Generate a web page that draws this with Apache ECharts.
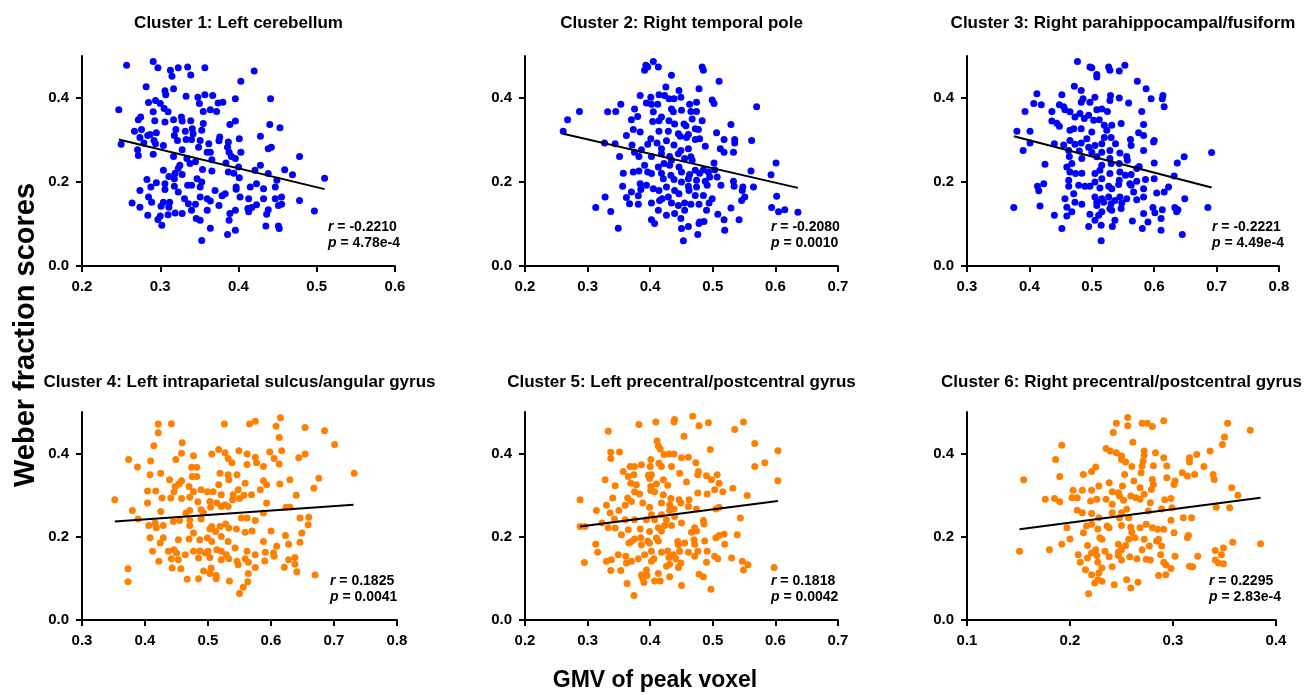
<!DOCTYPE html>
<html>
<head>
<meta charset="utf-8">
<script src="https://cdn.jsdelivr.net/npm/echarts@6/dist/echarts.min.js"></script>
<style>
  html, body { margin: 0; padding: 0; background: #fff; }
  #chart { width: 1311px; height: 695px; }
</style>
</head>
<body>
<div id="chart"></div>
<script>
// panel titles and stats
const titles = [
  'Cluster 1: Left cerebellum',
  'Cluster 2: Right temporal pole',
  'Cluster 3: Right parahippocampal/fusiform',
  'Cluster 4: Left intraparietal sulcus/angular gyrus',
  'Cluster 5: Left precentral/postcentral gyrus',
  'Cluster 6: Right precentral/postcentral gyrus'
]
const rValues = ['-0.2210', '-0.2080', '-0.2221', '0.1825', '0.1818', '0.2295']
const pValues = ['4.78e-4', '0.0010', '4.49e-4', '0.0041', '0.0042', '2.83e-4']

// tick labels
const yTicks = [0, 0.2, 0.4]
const xTicks = [
  [0.2, 0.3, 0.4, 0.5, 0.6],
  [0.2, 0.3, 0.4, 0.5, 0.6, 0.7],
  [0.3, 0.4, 0.5, 0.6, 0.7, 0.8],
  [0.3, 0.4, 0.5, 0.6, 0.7, 0.8],
  [0.2, 0.3, 0.4, 0.5, 0.6, 0.7],
  [0.1, 0.2, 0.3, 0.4]
]

// fitted regression lines (end points)
const fit1 = [[0.247, 0.301], [0.510, 0.183]]
const fit2 = [[0.261, 0.315], [0.636, 0.186]]
const fit3 = [[0.375, 0.309], [0.692, 0.187]]
const fit4 = [[0.352, 0.237], [0.731, 0.277]]
const fit5 = [[0.288, 0.225], [0.604, 0.286]]
const fit6 = [[0.151, 0.218], [0.385, 0.294]]

// GMV of peak voxel vs Weber fraction score
const cluster1 = [[0.257,0.478],[0.291,0.487],[0.297,0.472],[0.313,0.466],[0.323,0.472],[0.335,0.474],[0.357,0.472],[0.315,0.452],[0.339,0.455],[0.420,0.464],[0.403,0.44],[0.282,0.427],[0.317,0.422],[0.306,0.417],[0.307,0.408],[0.333,0.404],[0.348,0.402],[0.357,0.408],[0.367,0.406],[0.396,0.398],[0.441,0.398],[0.247,0.372],[0.285,0.389],[0.294,0.394],[0.300,0.387],[0.291,0.367],[0.305,0.375],[0.310,0.367],[0.350,0.387],[0.355,0.368],[0.364,0.372],[0.372,0.368],[0.380,0.390],[0.374,0.388],[0.275,0.355],[0.272,0.348],[0.293,0.346],[0.306,0.343],[0.317,0.348],[0.327,0.355],[0.328,0.345],[0.339,0.346],[0.355,0.339],[0.396,0.345],[0.389,0.337],[0.440,0.337],[0.453,0.329],[0.267,0.321],[0.276,0.325],[0.287,0.313],[0.292,0.299],[0.295,0.317],[0.320,0.325],[0.332,0.321],[0.341,0.327],[0.342,0.315],[0.353,0.323],[0.318,0.311],[0.322,0.299],[0.333,0.301],[0.340,0.301],[0.351,0.299],[0.362,0.291],[0.376,0.307],[0.375,0.298],[0.387,0.295],[0.401,0.303],[0.428,0.309],[0.274,0.306],[0.279,0.293],[0.284,0.311],[0.250,0.290],[0.271,0.277],[0.272,0.263],[0.291,0.266],[0.304,0.287],[0.294,0.291],[0.328,0.277],[0.317,0.261],[0.349,0.283],[0.360,0.271],[0.364,0.271],[0.366,0.253],[0.386,0.283],[0.388,0.271],[0.391,0.261],[0.403,0.271],[0.396,0.256],[0.438,0.279],[0.442,0.283],[0.478,0.261],[0.334,0.256],[0.338,0.244],[0.345,0.248],[0.325,0.240],[0.323,0.232],[0.354,0.230],[0.319,0.221],[0.304,0.228],[0.311,0.213],[0.318,0.208],[0.328,0.218],[0.366,0.226],[0.384,0.245],[0.387,0.224],[0.394,0.221],[0.400,0.236],[0.401,0.210],[0.428,0.240],[0.421,0.228],[0.438,0.220],[0.459,0.229],[0.469,0.217],[0.510,0.209],[0.449,0.204],[0.447,0.188],[0.283,0.206],[0.295,0.198],[0.288,0.188],[0.274,0.180],[0.306,0.196],[0.306,0.182],[0.318,0.190],[0.323,0.176],[0.335,0.192],[0.340,0.192],[0.351,0.188],[0.353,0.200],[0.347,0.208],[0.370,0.180],[0.379,0.167],[0.397,0.188],[0.397,0.183],[0.415,0.188],[0.423,0.196],[0.432,0.184],[0.285,0.164],[0.289,0.152],[0.304,0.152],[0.312,0.152],[0.331,0.160],[0.336,0.148],[0.345,0.147],[0.351,0.164],[0.360,0.160],[0.364,0.155],[0.375,0.144],[0.383,0.172],[0.402,0.164],[0.413,0.160],[0.417,0.139],[0.423,0.146],[0.432,0.160],[0.447,0.160],[0.455,0.164],[0.451,0.144],[0.455,0.147],[0.478,0.156],[0.264,0.150],[0.274,0.140],[0.301,0.142],[0.311,0.140],[0.319,0.126],[0.328,0.125],[0.340,0.133],[0.360,0.133],[0.389,0.125],[0.396,0.133],[0.412,0.137],[0.413,0.129],[0.438,0.134],[0.436,0.123],[0.497,0.131],[0.284,0.121],[0.300,0.119],[0.297,0.111],[0.310,0.122],[0.346,0.113],[0.351,0.109],[0.388,0.109],[0.302,0.097],[0.364,0.090],[0.396,0.085],[0.386,0.075],[0.435,0.095],[0.451,0.095],[0.452,0.089],[0.353,0.061]]

const cluster2 = [[0.405,0.487],[0.393,0.478],[0.396,0.474],[0.391,0.466],[0.413,0.474],[0.434,0.454],[0.483,0.474],[0.485,0.466],[0.510,0.440],[0.425,0.426],[0.446,0.418],[0.478,0.422],[0.384,0.406],[0.401,0.402],[0.414,0.408],[0.423,0.406],[0.430,0.398],[0.438,0.398],[0.449,0.402],[0.499,0.395],[0.502,0.387],[0.353,0.385],[0.287,0.368],[0.332,0.367],[0.345,0.368],[0.375,0.374],[0.394,0.388],[0.402,0.385],[0.412,0.385],[0.434,0.374],[0.437,0.367],[0.450,0.371],[0.463,0.385],[0.474,0.390],[0.465,0.368],[0.474,0.368],[0.570,0.379],[0.268,0.348],[0.370,0.348],[0.380,0.356],[0.405,0.367],[0.404,0.344],[0.418,0.355],[0.414,0.346],[0.430,0.346],[0.439,0.338],[0.454,0.338],[0.457,0.334],[0.467,0.350],[0.483,0.346],[0.529,0.337],[0.261,0.321],[0.373,0.325],[0.384,0.319],[0.414,0.321],[0.429,0.321],[0.445,0.315],[0.461,0.313],[0.472,0.327],[0.477,0.325],[0.506,0.317],[0.362,0.311],[0.401,0.303],[0.411,0.293],[0.426,0.298],[0.448,0.309],[0.458,0.306],[0.472,0.301],[0.479,0.303],[0.518,0.301],[0.535,0.301],[0.535,0.293],[0.562,0.299],[0.327,0.293],[0.344,0.291],[0.371,0.288],[0.386,0.277],[0.396,0.290],[0.418,0.279],[0.438,0.288],[0.449,0.275],[0.461,0.279],[0.488,0.285],[0.512,0.279],[0.518,0.271],[0.533,0.271],[0.351,0.261],[0.375,0.271],[0.382,0.261],[0.402,0.261],[0.418,0.267],[0.431,0.261],[0.434,0.252],[0.445,0.267],[0.455,0.256],[0.465,0.260],[0.467,0.252],[0.502,0.245],[0.601,0.245],[0.391,0.240],[0.413,0.236],[0.422,0.244],[0.431,0.240],[0.446,0.236],[0.472,0.228],[0.485,0.229],[0.357,0.221],[0.373,0.224],[0.382,0.226],[0.396,0.224],[0.402,0.220],[0.418,0.221],[0.433,0.216],[0.450,0.224],[0.463,0.218],[0.479,0.221],[0.493,0.224],[0.503,0.229],[0.507,0.212],[0.561,0.226],[0.593,0.217],[0.421,0.208],[0.438,0.206],[0.450,0.200],[0.461,0.208],[0.474,0.204],[0.488,0.202],[0.495,0.212],[0.533,0.202],[0.356,0.190],[0.384,0.196],[0.394,0.192],[0.385,0.182],[0.405,0.184],[0.426,0.188],[0.461,0.190],[0.474,0.188],[0.491,0.192],[0.513,0.192],[0.534,0.190],[0.548,0.188],[0.565,0.188],[0.547,0.180],[0.328,0.164],[0.362,0.163],[0.370,0.176],[0.381,0.167],[0.414,0.180],[0.419,0.160],[0.429,0.164],[0.439,0.180],[0.446,0.172],[0.462,0.180],[0.472,0.168],[0.485,0.168],[0.499,0.160],[0.551,0.164],[0.546,0.156],[0.602,0.166],[0.367,0.148],[0.381,0.147],[0.402,0.150],[0.415,0.156],[0.434,0.150],[0.445,0.144],[0.455,0.150],[0.465,0.147],[0.478,0.147],[0.494,0.150],[0.313,0.139],[0.490,0.133],[0.529,0.138],[0.594,0.139],[0.605,0.129],[0.615,0.134],[0.636,0.128],[0.337,0.130],[0.413,0.133],[0.426,0.121],[0.439,0.125],[0.455,0.133],[0.508,0.123],[0.402,0.110],[0.407,0.101],[0.449,0.113],[0.518,0.110],[0.542,0.110],[0.479,0.105],[0.486,0.106],[0.349,0.090],[0.450,0.089],[0.461,0.094],[0.478,0.101],[0.519,0.085],[0.476,0.075],[0.453,0.060]]

const cluster3 = [[0.477,0.487],[0.497,0.474],[0.500,0.472],[0.527,0.474],[0.529,0.466],[0.544,0.464],[0.553,0.478],[0.508,0.456],[0.508,0.450],[0.573,0.440],[0.472,0.428],[0.483,0.418],[0.587,0.422],[0.412,0.410],[0.452,0.408],[0.483,0.390],[0.486,0.398],[0.505,0.402],[0.497,0.390],[0.530,0.406],[0.529,0.394],[0.544,0.400],[0.559,0.388],[0.595,0.398],[0.614,0.406],[0.613,0.398],[0.616,0.379],[0.393,0.368],[0.407,0.387],[0.419,0.384],[0.436,0.368],[0.448,0.384],[0.455,0.379],[0.457,0.372],[0.465,0.367],[0.481,0.363],[0.495,0.359],[0.508,0.372],[0.516,0.374],[0.525,0.368],[0.580,0.368],[0.436,0.345],[0.444,0.340],[0.473,0.355],[0.488,0.351],[0.503,0.347],[0.512,0.348],[0.520,0.335],[0.532,0.335],[0.547,0.339],[0.583,0.337],[0.380,0.321],[0.401,0.321],[0.448,0.333],[0.465,0.323],[0.471,0.327],[0.483,0.327],[0.500,0.319],[0.524,0.323],[0.520,0.306],[0.531,0.306],[0.575,0.317],[0.583,0.311],[0.600,0.299],[0.599,0.295],[0.401,0.293],[0.440,0.291],[0.455,0.288],[0.465,0.299],[0.473,0.290],[0.483,0.293],[0.492,0.303],[0.495,0.283],[0.505,0.287],[0.516,0.291],[0.538,0.291],[0.562,0.301],[0.563,0.287],[0.390,0.275],[0.463,0.275],[0.480,0.274],[0.500,0.271],[0.516,0.271],[0.529,0.275],[0.545,0.269],[0.583,0.275],[0.648,0.260],[0.692,0.270],[0.464,0.261],[0.484,0.256],[0.508,0.260],[0.529,0.256],[0.556,0.261],[0.557,0.252],[0.425,0.242],[0.460,0.236],[0.468,0.244],[0.516,0.240],[0.531,0.244],[0.544,0.244],[0.600,0.245],[0.637,0.245],[0.576,0.237],[0.465,0.224],[0.474,0.220],[0.484,0.221],[0.505,0.220],[0.513,0.228],[0.529,0.220],[0.545,0.224],[0.554,0.216],[0.563,0.218],[0.572,0.232],[0.632,0.214],[0.463,0.204],[0.505,0.200],[0.516,0.208],[0.544,0.204],[0.561,0.196],[0.572,0.202],[0.586,0.206],[0.600,0.208],[0.413,0.190],[0.423,0.196],[0.415,0.179],[0.463,0.190],[0.479,0.192],[0.489,0.190],[0.497,0.190],[0.513,0.186],[0.527,0.190],[0.543,0.194],[0.532,0.184],[0.563,0.192],[0.583,0.184],[0.623,0.188],[0.457,0.160],[0.471,0.172],[0.473,0.152],[0.484,0.147],[0.505,0.164],[0.508,0.152],[0.516,0.160],[0.519,0.152],[0.527,0.164],[0.531,0.148],[0.537,0.156],[0.545,0.164],[0.548,0.150],[0.556,0.160],[0.567,0.176],[0.572,0.158],[0.583,0.164],[0.604,0.174],[0.616,0.176],[0.649,0.160],[0.375,0.139],[0.417,0.143],[0.460,0.140],[0.508,0.144],[0.529,0.137],[0.547,0.137],[0.598,0.139],[0.601,0.127],[0.613,0.134],[0.633,0.139],[0.636,0.129],[0.638,0.134],[0.686,0.139],[0.440,0.121],[0.460,0.119],[0.468,0.129],[0.497,0.123],[0.511,0.121],[0.516,0.129],[0.532,0.133],[0.583,0.125],[0.505,0.109],[0.537,0.109],[0.565,0.107],[0.590,0.105],[0.611,0.113],[0.495,0.094],[0.515,0.097],[0.533,0.094],[0.452,0.089],[0.581,0.089],[0.611,0.085],[0.645,0.075],[0.515,0.060]]

const cluster4 = [[0.615,0.486],[0.575,0.478],[0.566,0.471],[0.526,0.471],[0.442,0.472],[0.421,0.471],[0.421,0.450],[0.608,0.466],[0.654,0.463],[0.685,0.455],[0.613,0.439],[0.414,0.419],[0.459,0.426],[0.701,0.422],[0.374,0.386],[0.388,0.368],[0.409,0.382],[0.449,0.386],[0.458,0.401],[0.477,0.395],[0.506,0.399],[0.517,0.410],[0.527,0.402],[0.549,0.407],[0.562,0.399],[0.575,0.391],[0.598,0.404],[0.605,0.388],[0.617,0.407],[0.644,0.390],[0.654,0.399],[0.532,0.388],[0.538,0.378],[0.562,0.374],[0.577,0.378],[0.588,0.369],[0.613,0.375],[0.732,0.353],[0.408,0.349],[0.425,0.353],[0.439,0.337],[0.474,0.367],[0.482,0.367],[0.475,0.345],[0.482,0.345],[0.519,0.353],[0.532,0.349],[0.546,0.349],[0.458,0.335],[0.454,0.327],[0.448,0.321],[0.470,0.321],[0.517,0.325],[0.533,0.337],[0.559,0.329],[0.588,0.335],[0.593,0.325],[0.614,0.327],[0.630,0.337],[0.676,0.341],[0.668,0.317],[0.404,0.310],[0.417,0.310],[0.446,0.308],[0.477,0.308],[0.489,0.313],[0.499,0.308],[0.508,0.308],[0.521,0.301],[0.540,0.301],[0.548,0.313],[0.557,0.300],[0.569,0.301],[0.583,0.313],[0.640,0.300],[0.352,0.289],[0.404,0.281],[0.427,0.293],[0.441,0.293],[0.458,0.292],[0.471,0.295],[0.484,0.284],[0.503,0.285],[0.514,0.281],[0.527,0.277],[0.539,0.289],[0.550,0.292],[0.593,0.281],[0.380,0.263],[0.425,0.261],[0.465,0.257],[0.471,0.263],[0.489,0.265],[0.493,0.257],[0.504,0.271],[0.521,0.273],[0.532,0.273],[0.588,0.257],[0.624,0.271],[0.630,0.271],[0.389,0.243],[0.416,0.233],[0.406,0.227],[0.418,0.222],[0.429,0.227],[0.445,0.237],[0.455,0.239],[0.471,0.241],[0.489,0.243],[0.503,0.219],[0.506,0.225],[0.512,0.213],[0.519,0.225],[0.528,0.231],[0.533,0.221],[0.545,0.219],[0.553,0.245],[0.562,0.245],[0.575,0.239],[0.646,0.245],[0.660,0.247],[0.659,0.229],[0.471,0.227],[0.477,0.209],[0.470,0.195],[0.408,0.198],[0.429,0.198],[0.453,0.193],[0.487,0.193],[0.499,0.197],[0.506,0.189],[0.521,0.201],[0.532,0.189],[0.559,0.211],[0.570,0.214],[0.600,0.214],[0.623,0.203],[0.649,0.209],[0.588,0.189],[0.424,0.185],[0.412,0.165],[0.437,0.165],[0.446,0.169],[0.450,0.161],[0.464,0.157],[0.477,0.165],[0.487,0.166],[0.496,0.161],[0.500,0.165],[0.514,0.169],[0.521,0.165],[0.529,0.157],[0.543,0.173],[0.562,0.165],[0.575,0.157],[0.591,0.163],[0.604,0.161],[0.609,0.177],[0.628,0.182],[0.646,0.187],[0.422,0.141],[0.442,0.147],[0.453,0.145],[0.485,0.149],[0.503,0.150],[0.521,0.145],[0.533,0.147],[0.546,0.141],[0.559,0.147],[0.564,0.139],[0.590,0.142],[0.605,0.153],[0.628,0.145],[0.638,0.150],[0.638,0.134],[0.373,0.123],[0.443,0.125],[0.457,0.123],[0.505,0.125],[0.548,0.133],[0.575,0.126],[0.621,0.127],[0.641,0.116],[0.493,0.118],[0.503,0.112],[0.513,0.107],[0.564,0.112],[0.670,0.108],[0.373,0.092],[0.467,0.098],[0.485,0.099],[0.513,0.099],[0.534,0.094],[0.563,0.092],[0.556,0.079],[0.550,0.064]]

const cluster5 = [[0.468,0.490],[0.439,0.482],[0.438,0.476],[0.409,0.476],[0.382,0.470],[0.478,0.467],[0.493,0.474],[0.549,0.476],[0.535,0.458],[0.333,0.454],[0.454,0.442],[0.411,0.430],[0.413,0.418],[0.567,0.424],[0.496,0.410],[0.604,0.407],[0.337,0.403],[0.351,0.404],[0.337,0.388],[0.401,0.386],[0.416,0.411],[0.422,0.398],[0.430,0.399],[0.438,0.399],[0.450,0.390],[0.461,0.391],[0.414,0.377],[0.418,0.369],[0.434,0.369],[0.386,0.373],[0.368,0.369],[0.375,0.369],[0.357,0.357],[0.400,0.369],[0.447,0.353],[0.473,0.378],[0.477,0.357],[0.476,0.349],[0.490,0.347],[0.507,0.349],[0.567,0.369],[0.583,0.378],[0.604,0.335],[0.328,0.337],[0.365,0.345],[0.374,0.349],[0.397,0.348],[0.402,0.349],[0.369,0.329],[0.344,0.323],[0.378,0.325],[0.399,0.340],[0.410,0.327],[0.421,0.337],[0.401,0.321],[0.428,0.324],[0.458,0.332],[0.498,0.337],[0.510,0.329],[0.532,0.317],[0.503,0.313],[0.516,0.308],[0.340,0.293],[0.364,0.293],[0.375,0.308],[0.383,0.303],[0.401,0.311],[0.407,0.308],[0.421,0.301],[0.433,0.292],[0.446,0.289],[0.449,0.281],[0.462,0.289],[0.476,0.305],[0.491,0.303],[0.555,0.299],[0.288,0.289],[0.314,0.263],[0.330,0.276],[0.350,0.263],[0.360,0.276],[0.370,0.285],[0.388,0.281],[0.399,0.271],[0.418,0.281],[0.431,0.277],[0.438,0.267],[0.461,0.273],[0.474,0.267],[0.505,0.267],[0.510,0.271],[0.336,0.257],[0.343,0.243],[0.402,0.253],[0.418,0.253],[0.431,0.263],[0.439,0.249],[0.394,0.241],[0.407,0.241],[0.426,0.241],[0.288,0.225],[0.296,0.225],[0.323,0.233],[0.333,0.222],[0.344,0.221],[0.360,0.241],[0.365,0.217],[0.375,0.241],[0.384,0.219],[0.399,0.213],[0.413,0.222],[0.418,0.214],[0.423,0.227],[0.434,0.227],[0.450,0.233],[0.485,0.239],[0.486,0.231],[0.471,0.222],[0.466,0.211],[0.474,0.214],[0.544,0.245],[0.354,0.205],[0.385,0.198],[0.396,0.190],[0.410,0.197],[0.375,0.195],[0.370,0.189],[0.366,0.185],[0.386,0.181],[0.399,0.185],[0.413,0.190],[0.444,0.189],[0.455,0.185],[0.445,0.181],[0.470,0.193],[0.471,0.182],[0.487,0.190],[0.505,0.198],[0.510,0.203],[0.518,0.206],[0.539,0.205],[0.519,0.182],[0.313,0.182],[0.316,0.163],[0.330,0.141],[0.338,0.145],[0.349,0.157],[0.361,0.153],[0.362,0.137],[0.370,0.141],[0.381,0.147],[0.391,0.157],[0.402,0.165],[0.406,0.147],[0.418,0.163],[0.428,0.166],[0.430,0.150],[0.437,0.157],[0.441,0.147],[0.447,0.165],[0.461,0.163],[0.471,0.153],[0.476,0.165],[0.491,0.165],[0.503,0.153],[0.508,0.147],[0.530,0.149],[0.295,0.138],[0.337,0.119],[0.353,0.119],[0.402,0.141],[0.426,0.129],[0.431,0.134],[0.445,0.126],[0.449,0.137],[0.490,0.139],[0.547,0.141],[0.549,0.120],[0.556,0.133],[0.598,0.126],[0.394,0.120],[0.386,0.108],[0.388,0.100],[0.395,0.107],[0.407,0.094],[0.416,0.094],[0.431,0.104],[0.478,0.110],[0.485,0.104],[0.413,0.112],[0.363,0.088],[0.390,0.090],[0.450,0.083],[0.497,0.074],[0.374,0.059]]

const cluster6 = [[0.256,0.487],[0.256,0.467],[0.245,0.473],[0.270,0.473],[0.275,0.473],[0.280,0.465],[0.291,0.479],[0.353,0.473],[0.375,0.456],[0.350,0.440],[0.348,0.422],[0.242,0.451],[0.261,0.427],[0.192,0.420],[0.186,0.386],[0.235,0.412],[0.239,0.406],[0.245,0.402],[0.250,0.394],[0.250,0.386],[0.254,0.380],[0.260,0.369],[0.270,0.370],[0.272,0.406],[0.272,0.396],[0.283,0.402],[0.291,0.390],[0.281,0.371],[0.271,0.382],[0.294,0.370],[0.316,0.390],[0.316,0.380],[0.323,0.398],[0.336,0.406],[0.330,0.369],[0.225,0.368],[0.221,0.357],[0.213,0.350],[0.190,0.345],[0.155,0.337],[0.253,0.350],[0.269,0.354],[0.280,0.338],[0.281,0.326],[0.294,0.342],[0.302,0.334],[0.301,0.326],[0.309,0.354],[0.314,0.346],[0.321,0.350],[0.339,0.350],[0.340,0.338],[0.228,0.322],[0.238,0.330],[0.251,0.322],[0.262,0.334],[0.268,0.318],[0.279,0.314],[0.176,0.290],[0.185,0.292],[0.190,0.284],[0.202,0.294],[0.203,0.312],[0.207,0.294],[0.212,0.312],[0.221,0.312],[0.220,0.286],[0.226,0.290],[0.235,0.290],[0.241,0.308],[0.247,0.306],[0.248,0.298],[0.252,0.288],[0.259,0.298],[0.264,0.294],[0.268,0.290],[0.272,0.302],[0.278,0.282],[0.292,0.289],[0.298,0.292],[0.357,0.318],[0.363,0.300],[0.207,0.264],[0.212,0.258],[0.221,0.256],[0.241,0.278],[0.241,0.258],[0.250,0.258],[0.255,0.266],[0.248,0.246],[0.257,0.246],[0.276,0.262],[0.289,0.267],[0.299,0.270],[0.310,0.246],[0.318,0.246],[0.342,0.271],[0.355,0.270],[0.228,0.246],[0.221,0.230],[0.216,0.226],[0.197,0.222],[0.200,0.195],[0.213,0.210],[0.227,0.219],[0.236,0.226],[0.238,0.222],[0.250,0.227],[0.259,0.223],[0.260,0.211],[0.268,0.222],[0.274,0.230],[0.280,0.222],[0.285,0.218],[0.291,0.218],[0.298,0.240],[0.301,0.210],[0.314,0.198],[0.315,0.203],[0.151,0.165],[0.180,0.169],[0.192,0.182],[0.217,0.179],[0.229,0.198],[0.231,0.194],[0.225,0.169],[0.234,0.165],[0.247,0.182],[0.250,0.169],[0.254,0.179],[0.257,0.194],[0.263,0.198],[0.272,0.194],[0.277,0.178],[0.284,0.190],[0.286,0.194],[0.289,0.178],[0.270,0.169],[0.208,0.157],[0.210,0.139],[0.217,0.149],[0.221,0.161],[0.226,0.155],[0.227,0.139],[0.238,0.152],[0.247,0.163],[0.247,0.155],[0.250,0.144],[0.258,0.152],[0.265,0.147],[0.274,0.146],[0.278,0.144],[0.288,0.157],[0.291,0.139],[0.293,0.133],[0.302,0.153],[0.324,0.153],[0.341,0.167],[0.349,0.173],[0.358,0.187],[0.385,0.183],[0.341,0.144],[0.344,0.137],[0.349,0.135],[0.347,0.157],[0.316,0.129],[0.319,0.128],[0.215,0.121],[0.221,0.109],[0.228,0.113],[0.231,0.125],[0.241,0.128],[0.298,0.124],[0.286,0.107],[0.293,0.109],[0.224,0.089],[0.227,0.097],[0.231,0.093],[0.243,0.085],[0.255,0.097],[0.266,0.091],[0.259,0.077],[0.218,0.063]]

const clusters = [cluster1, cluster2, cluster3, cluster4, cluster5, cluster6]
const fits = [fit1, fit2, fit3, fit4, fit5, fit6]

// layout in px
const boxes = [
  { left: 82, top: 56, width: 313, height: 210 },
  { left: 525, top: 56, width: 313, height: 210 },
  { left: 967, top: 56, width: 312, height: 210 },
  { left: 82, top: 412, width: 315, height: 208 },
  { left: 525, top: 412, width: 313, height: 208 },
  { left: 967, top: 412, width: 309, height: 208 }
]
const BLUE = '#0000FF'
const ORANGE = '#FF8000'
const FONT = 'Liberation Sans, Arial, sans-serif'

const grid = []
const xAxis = []
const yAxis = []
const series = []
const title = []
const graphic = []

boxes.forEach((b, i) => {
  grid.push({ left: b.left, top: b.top, width: b.width, height: b.height, containLabel: false })
  const ticks = xTicks[i]
  xAxis.push({
    gridIndex: i, type: 'value',
    min: ticks[0], max: ticks[ticks.length - 1],
    axisLine: { show: true, onZero: false, lineStyle: { color: '#000', width: 2 } },
    axisTick: { show: true, customValues: ticks, length: 6, lineStyle: { color: '#000', width: 2 } },
    axisLabel: {
      customValues: ticks, formatter: v => v.toFixed(1), margin: 13,
      color: '#000', fontSize: 15, fontWeight: 'bold', fontFamily: FONT
    },
    splitLine: { show: false }
  })
  yAxis.push({
    gridIndex: i, type: 'value', min: 0, max: 0.5,
    axisLine: { show: true, onZero: false, lineStyle: { color: '#000', width: 2 } },
    axisTick: { show: true, customValues: yTicks, length: 6, lineStyle: { color: '#000', width: 2 } },
    axisLabel: {
      customValues: yTicks, formatter: v => v.toFixed(1), margin: 13,
      color: '#000', fontSize: 15, fontWeight: 'bold', fontFamily: FONT
    },
    splitLine: { show: false }
  })
  series.push({
    type: 'scatter', xAxisIndex: i, yAxisIndex: i,
    data: clusters[i], symbol: 'circle', symbolSize: 7,
    itemStyle: { color: i < 3 ? BLUE : ORANGE, opacity: 1 },
    silent: true
  })
  series.push({
    type: 'line', xAxisIndex: i, yAxisIndex: i,
    data: fits[i], symbol: 'none', z: 5, silent: true,
    lineStyle: { color: '#000', width: 2 }
  })
  // panel title
  graphic.push({
    type: 'text', x: b.left + b.width / 2, y: i < 3 ? 23 : 382, silent: true,
    style: {
      text: titles[i], font: 'bold 17px ' + FONT, fill: '#000',
      align: 'center', verticalAlign: 'middle', textAlign: 'center', textVerticalAlign: 'middle'
    }
  })
  // r / p stats
  title.push({
    left: b.left + b.width - 67, top: b.top + b.height - 47, padding: 0,
    text: '{i|r} = ' + rValues[i] + '\n{i|p} = ' + pValues[i],
    textStyle: {
      color: '#000', fontSize: 14, fontWeight: 'bold', fontFamily: FONT, lineHeight: 16,
      rich: { i: { fontStyle: 'italic', fontWeight: 'bold', fontSize: 14, fontFamily: FONT, color: '#000', lineHeight: 16 } }
    }
  })
})

// axis names
graphic.push({
  type: 'text', x: 26, y: 335, rotation: Math.PI / 2, silent: true,
  style: {
    text: 'Weber fraction scores', font: 'bold 29px ' + FONT, fill: '#000',
    align: 'center', verticalAlign: 'middle', textAlign: 'center', textVerticalAlign: 'middle'
  }
})
graphic.push({
  type: 'text', x: 655, y: 681, silent: true,
  style: {
    text: 'GMV of peak voxel', font: 'bold 23px ' + FONT, fill: '#000',
    align: 'center', verticalAlign: 'middle', textAlign: 'center', textVerticalAlign: 'middle'
  }
})

const chart = echarts.init(document.getElementById('chart'), null, { renderer: 'canvas' })
chart.setOption({
  animation: false,
  backgroundColor: '#fff',
  title, grid, xAxis, yAxis, series, graphic
})
</script>
</body>
</html>
